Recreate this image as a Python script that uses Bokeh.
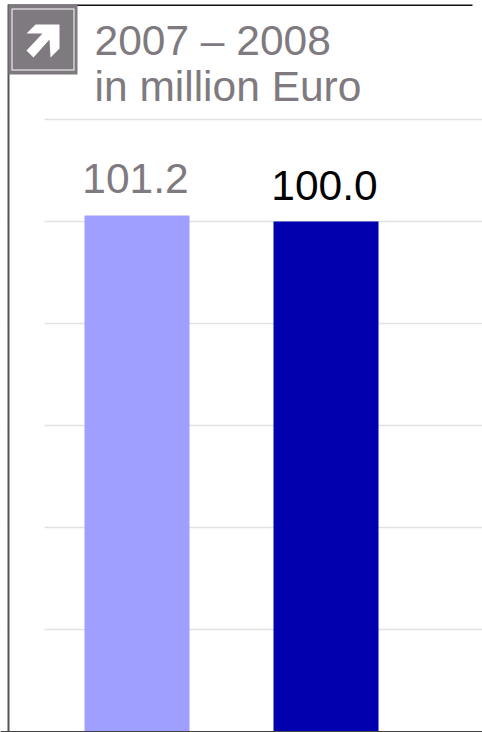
from bokeh.plotting import figure
from bokeh.embed import file_html
from bokeh.resources import INLINE
from bokeh.core.properties import value
from bokeh.models import Range1d, FixedTicker, Grid, BoxAnnotation, PolyAnnotation, Label, ColumnDataSource

years = ["2007", "2008"]
positions = [0, 1]
values = [101.2, 100.0]
value_labels = ["101.2", "100.0"]
bar_colors = ["#9f9fff", "#0000af"]
label_colors = ["#7f7a80", "#000000"]
grid_ticks = [20, 40, 60, 80, 100, 120]
title_lines = ["2007 \u2013 2008", "in million Euro"]

FONT = "Liberation Sans"
W, H = 482, 732

p = figure(width=W, height=H, output_backend="svg", toolbar_location=None,
           x_range=Range1d(-136.5 / 189, (W - 136.5) / 189),
           y_range=Range1d(-1 / 5.1, (H - 1) / 5.1),
           min_border=0, outline_line_color=None)
p.xaxis.visible = False
p.yaxis.visible = False
p.grid.visible = False

grid = Grid(dimension=1, ticker=FixedTicker(ticks=grid_ticks),
            grid_line_color="#e2e2e2", grid_line_width=1.5)
p.add_layout(grid)

src = ColumnDataSource(dict(x=positions, top=values, color=bar_colors, label=value_labels, tc=label_colors))
p.vbar(x="x", top="top", bottom=0, width=105 / 189, fill_color="color", line_color=None, source=src)
p.text(x="x", y="top", text="label", text_color="tc", source=src, text_align="center",
       text_baseline="alphabetic", text_font=value(FONT), text_font_size="42.5px", y_offset=-36.5, x_offset=-1.5)

def box(l, t, r, b, c, level="overlay"):
    p.add_layout(BoxAnnotation(left=l, right=r, top=H - t, bottom=H - b, left_units="screen", right_units="screen",
                               top_units="screen", bottom_units="screen", fill_color=c, fill_alpha=1,
                               line_color=None, level=level))
# white cover that stops the rules short of the frame, then the frame itself
box(0, 112, 44, H - 1, "#ffffff")
box(7, 4, 9, H, "#55525a")
box(8, 4, 472, 5.5, "#111111")
box(0, 730.5, W, H, "#444444")
box(8, 4, 77, 74, "#7f7a80")
box(11, 8, 74, 70, "#ffffff")
box(12, 9, 73, 69, "#7f7a80")
arrow_x = [35, 59, 59, 50, 49, 33, 26, 42, 26]
arrow_y = [24, 24, 48, 57, 39, 57, 50, 33, 33]
p.add_layout(PolyAnnotation(xs=arrow_x, ys=[H - v for v in arrow_y],
                            xs_units="screen", ys_units="screen", fill_color="#ffffff", fill_alpha=1,
                            line_color=None, level="overlay"))

for line, base in zip(title_lines, [39.5, 86]):
    p.add_layout(Label(x=94, y=H - base, x_units="screen", y_units="screen", text=line, text_color="#7f7a80",
                       text_font=FONT, text_font_size="42.5px", text_baseline="alphabetic"))

open("out.html", "w").write(file_html(p, INLINE))
